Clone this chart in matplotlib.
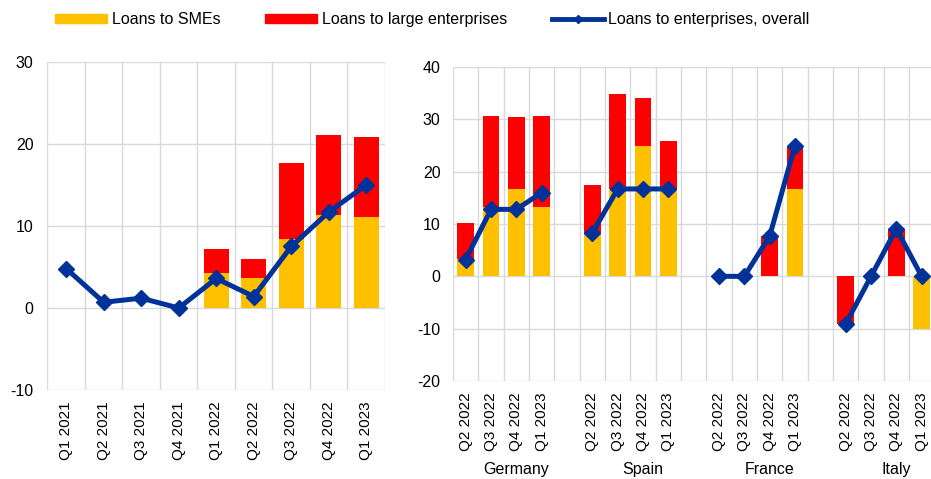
import matplotlib
matplotlib.use("Agg")
import matplotlib.pyplot as plt
from matplotlib.patches import Patch
from matplotlib.lines import Line2D
import numpy as np

plt.rcParams['font.family'] = ['Liberation Sans', 'DejaVu Sans']
plt.rcParams['font.size'] = 11
plt.rcParams['axes.unicode_minus'] = False

# Left panel: euro area
left_labels = ["Q1 2021", "Q2 2021", "Q3 2021", "Q4 2021", "Q1 2022",
               "Q2 2022", "Q3 2022", "Q4 2022", "Q1 2023"]
left_sme = [0, 0, 0, 0, 4.3, 3.7, 8.4, 11.3, 11.1]
left_large = [0, 0, 0, 0, 2.9, 2.3, 9.3, 9.8, 9.8]
left_overall = [4.8, 0.7, 1.2, 0.0, 3.6, 1.4, 7.5, 11.7, 15.0]

# Right panel: countries
countries = ["Germany", "Spain", "France", "Italy"]
quarters = ["Q2 2022", "Q3 2022", "Q4 2022", "Q1 2023"]
sme = {
    "Germany": [3.3, 13.3, 16.7, 13.3],
    "Spain": [8.3, 16.7, 25.0, 16.7],
    "France": [0.0, 0.0, 0.0, 16.7],
    "Italy": [0.0, 0.0, 0.0, -10.0],
}
large = {
    "Germany": [6.9, 17.3, 13.7, 17.3],
    "Spain": [9.1, 18.2, 9.1, 9.1],
    "France": [0.0, 0.0, 7.7, 8.3],
    "Italy": [-9.1, 0.0, 9.1, 0.0],
}
overall = {
    "Germany": [3.2, 12.8, 12.8, 16.0],
    "Spain": [8.3, 16.7, 16.7, 16.7],
    "France": [0.0, 0.0, 7.7, 25.0],
    "Italy": [-9.1, 0.0, 9.1, 0.0],
}

YELLOW = "#FFC000"
RED = "#FF0000"
BLUE = "#003299"
GRID = "#D9D9D9"

fig = plt.figure(figsize=(9.31, 4.79), dpi=100)

def style(ax, n, pad):
    for s in ax.spines.values():
        s.set_visible(False)
    ax.set_xlim(-0.5, n - 0.5)
    ax.set_xticks(np.arange(-0.5, n, 1.0), minor=True)
    ax.grid(True, which='minor', axis='x', color=GRID, lw=1)
    ax.grid(True, which='major', axis='y', color=GRID, lw=1)
    ax.tick_params(axis='both', which='both', length=0)
    ax.tick_params(axis='y', pad=pad, labelsize=11.5)
    ax.set_axisbelow(True)

# Left axes
axL = fig.add_axes([0.051, 0.1858, 0.3625, 0.6848])
style(axL, len(left_labels), 10)
xL = np.arange(len(left_labels))
sl = np.array(left_sme); ll = np.array(left_large)
axL.bar(xL, sl, width=0.66, color=YELLOW, zorder=2)
axL.bar(xL, ll, width=0.66, bottom=np.where((ll >= 0) & (sl > 0), sl, 0), color=RED, zorder=2)
axL.plot(xL, left_overall, color=BLUE, lw=3.6, marker='D', ms=8.5, zorder=3)
axL.set_ylim(-10, 30)
axL.set_yticks([-10, 0, 10, 20, 30])
axL.set_xticks(xL)
axL.set_xticklabels(left_labels, rotation=90, fontsize=11)
axL.tick_params(axis='x', pad=8)

# Right axes
n_r = 19
axR = fig.add_axes([0.4866, 0.2046, 0.517, 0.6555])
style(axR, n_r, 9)
pos, labs = [], []
for gi, c in enumerate(countries):
    xs = np.arange(4) + gi * 5
    s = np.array(sme[c]); l = np.array(large[c])
    bottom = np.where(np.sign(l) == np.sign(s), s, 0)
    axR.bar(xs, s, width=0.66, color=YELLOW, zorder=2)
    axR.bar(xs, l, width=0.66, bottom=bottom, color=RED, zorder=2)
    axR.plot(xs, overall[c], color=BLUE, lw=3.6, marker='D', ms=8.5, zorder=3,
             clip_on=False)
    pos.extend(xs); labs.extend(quarters)
    axR.text(gi * 5 + 2.0, -0.258, c, transform=axR.get_xaxis_transform(),
             ha='center', va='top', fontsize=11.5)
axR.set_ylim(-20, 40)
axR.set_yticks([-20, -10, 0, 10, 20, 30, 40])
axR.set_xticks(pos)
axR.set_xticklabels(labs, rotation=90, fontsize=11)
axR.tick_params(axis='x', pad=8)

handles = [Patch(color=YELLOW), Patch(color=RED),
           Line2D([0], [0], color=BLUE, lw=3.5, marker='D', ms=4.5)]
fig.legend(handles, ["Loans to SMEs", "Loans to large enterprises",
                     "Loans to enterprises, overall"],
           loc='center left', bbox_to_anchor=(0.059, 0.959), ncol=3, frameon=False,
           fontsize=11.5, handlelength=3.25, handleheight=0.56, handletextpad=0.3,
           columnspacing=2.8, numpoints=1, borderpad=0, borderaxespad=0)

fig.savefig("out.png", dpi=100)
